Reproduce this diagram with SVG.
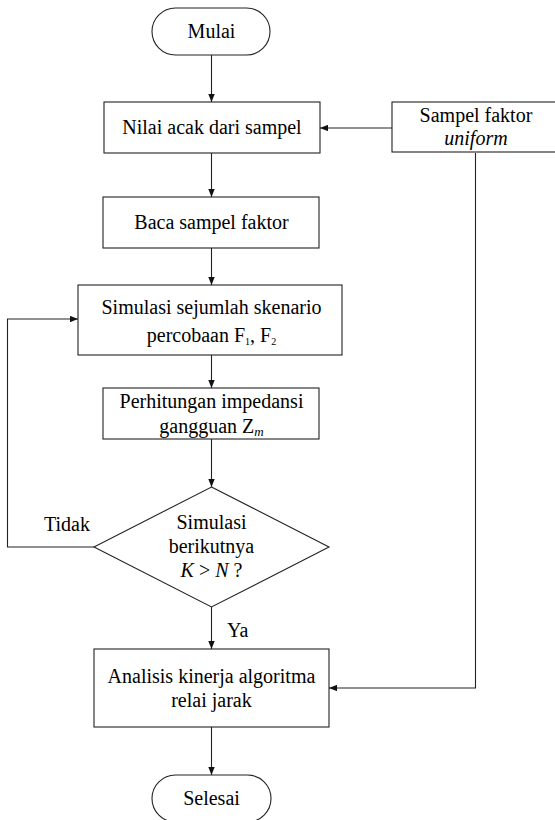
<svg xmlns="http://www.w3.org/2000/svg" width="555" height="820" viewBox="0 0 555 820">
<style>
.s{fill:#fff;stroke:#222;stroke-width:1.1}
.c{fill:none;stroke:#222;stroke-width:1.1}
</style>
<defs>
<marker id="a" viewBox="0 0 10 8" refX="10" refY="4" markerWidth="8" markerHeight="6.4" markerUnits="userSpaceOnUse" orient="auto">
<path d="M0,0 L10,4 L0,8 z" fill="#111"/>
</marker>
</defs>
<rect width="555" height="820" fill="#fff"/>
<g id="connectors">
<path class="c" d="M211.5,55 V102" marker-end="url(#a)"/>
<path class="c" d="M392,128 H320" marker-end="url(#a)"/>
<path class="c" d="M211.5,153 V197" marker-end="url(#a)"/>
<path class="c" d="M211.5,248 V285" marker-end="url(#a)"/>
<path class="c" d="M211.5,355 V388" marker-end="url(#a)"/>
<path class="c" d="M211.5,439 V487" marker-end="url(#a)"/>
<path class="c" d="M94,547 H7.5 V319 H78" marker-end="url(#a)"/>
<path class="c" d="M211.5,607 V649" marker-end="url(#a)"/>
<path class="c" d="M475.5,153 V688 H329" marker-end="url(#a)"/>
<path class="c" d="M211.5,727 V775" marker-end="url(#a)"/>
<text x="44" y="531" font-size="20" font-family="Liberation Serif">Tidak</text>
<text x="227" y="637" font-size="20" font-family="Liberation Serif">Ya</text>
</g>
<g id="mulai">
<rect class="s" x="152" y="8" width="118" height="47" rx="23.5"/>
<text x="187.6" y="38" font-size="20" font-family="Liberation Serif">Mulai</text>
</g>
<g id="nilai">
<rect class="s" x="104" y="102" width="216" height="51"/>
<text x="122.3" y="134" font-size="20" font-family="Liberation Serif">Nilai acak dari sampel</text>
</g>
<g id="sampel">
<rect class="s" x="392" y="102" width="170" height="50"/>
<text x="419.6" y="122" font-size="20" font-family="Liberation Serif">Sampel faktor</text>
<text x="444.3" y="145" font-size="20" font-family="Liberation Serif" font-style="italic">uniform</text>
</g>
<g id="baca">
<rect class="s" x="103" y="197" width="216" height="51"/>
<text x="134.3" y="229" font-size="20" font-family="Liberation Serif">Baca sampel faktor</text>
</g>
<g id="simulasi">
<rect class="s" x="78" y="285" width="264" height="70"/>
<text x="101.5" y="314" font-size="20" font-family="Liberation Serif">Simulasi sejumlah skenario</text>
<text x="146.8" y="342" font-size="20" font-family="Liberation Serif">percobaan F<tspan font-size="10" dy="3">1</tspan><tspan dy="-3">, F</tspan><tspan font-size="10" dy="3">2</tspan></text>
</g>
<g id="perhitungan">
<rect class="s" x="103" y="388" width="216" height="51"/>
<text x="119.6" y="408" font-size="20" font-family="Liberation Serif">Perhitungan impedansi</text>
<text x="159.3" y="433" font-size="20" font-family="Liberation Serif">gangguan Z<tspan font-style="italic" font-size="13" dy="3">m</tspan></text>
</g>
<g id="keputusan">
<path class="s" d="M211.5,487 L329,547 L211.5,607 L94,547 Z"/>
<text x="176.5" y="529" font-size="20" font-family="Liberation Serif">Simulasi</text>
<text x="168.7" y="553" font-size="20" font-family="Liberation Serif">berikutnya</text>
<text x="180.6" y="577" font-size="20" font-family="Liberation Serif"><tspan font-style="italic">K</tspan> &gt; <tspan font-style="italic">N</tspan> ?</text>
</g>
<g id="analisis">
<rect class="s" x="94" y="649" width="235" height="78"/>
<text x="107.6" y="683" font-size="20" font-family="Liberation Serif">Analisis kinerja algoritma</text>
<text x="171.2" y="707" font-size="20" font-family="Liberation Serif">relai jarak</text>
</g>
<g id="selesai">
<rect class="s" x="152" y="775" width="119" height="47" rx="23.5"/>
<text x="183.2" y="805" font-size="20" font-family="Liberation Serif">Selesai</text>
</g>
</svg>
